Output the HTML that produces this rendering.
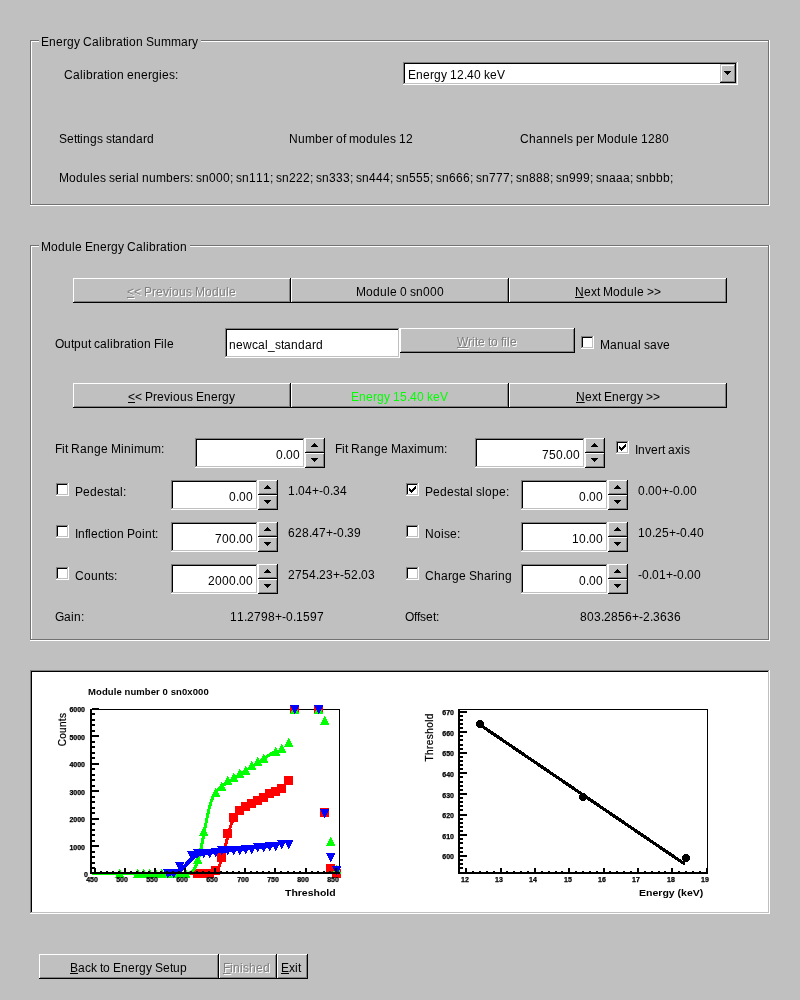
<!DOCTYPE html>
<html><head><meta charset="utf-8"><title>Energy Calibration</title><style>
html,body{margin:0;padding:0}
body{width:800px;height:1000px;background:#c0c0c0;overflow:hidden;position:relative;font-family:"Liberation Sans",sans-serif}
div{position:absolute;box-sizing:border-box}
.t{white-space:nowrap;font:12px/14px "Liberation Sans",sans-serif;height:14px;color:#000}
.t i{display:inline-block;font-style:normal;height:14px;vertical-align:baseline}
.u{text-decoration:underline}
.dis{color:#808080;text-shadow:1px 1px 0 #fff}
.grn{color:#00ff00}
.gwo{border-right:1px solid #fff;border-bottom:1px solid #fff}
.gwi{border-left:1px solid #fff;border-top:1px solid #fff}
.gd{border:1px solid #727272}
.gt{background:#c0c0c0}
.btn{background:#c0c0c0;box-shadow:inset -1px -1px 0 #000,inset 1px 1px 0 #fff,inset -2px -2px 0 #808080}
.sunk{background:#fff;box-shadow:inset -1px -1px 0 #fff,inset 1px 1px 0 #808080,inset -2px -2px 0 #c0c0c0,inset 2px 2px 0 #000}
.k{background:#000}
.tl{font:bold 7px/8px "Liberation Sans",sans-serif;height:8px;white-space:nowrap;color:#000;-webkit-text-stroke:0.25px #000}
.r{text-align:right}
.c{text-align:center}
.pt{font:bold 9.5px/10px "Liberation Sans",sans-serif;white-space:nowrap;letter-spacing:0.09px}
.al{font:bold 9.9px/12px "Liberation Sans",sans-serif;white-space:nowrap;transform-origin:0 0}
.btn2{background:#c0c0c0;box-shadow:inset -1px -1px 0 #000,inset 1px 1px 0 #c0c0c0,inset -2px -2px 0 #808080,inset 2px 2px 0 #fff}
#app{left:0;top:0;width:800px;height:1000px;will-change:transform}
.a2{width:2px}.a3{width:3px}.a4{width:4px}.a5{width:5px}.a6{width:6px}.a7{width:7px}.a8{width:8px}.a9{width:9px}.a10{width:10px}.a11{width:11px}.a12{width:12px}</style></head><body><div id="app">
<div class="gwo" style="left:30px;top:40px;width:740px;height:166px"></div>
<div class="gwi" style="left:31px;top:41px;width:737px;height:163px"></div>
<div class="gd" style="left:30px;top:40px;width:739px;height:165px"></div>
<div class="gt" style="left:39px;top:36px;width:162px;height:12px"></div>
<div class="t" style="left:41px;top:35px"><i class=a8>E</i><i class=a7>n</i><i class=a7>e</i><i class=a4>r</i><i class=a7>g</i><i class=a6>y</i><i class=a3>&nbsp;</i><i class=a9>C</i><i class=a7>a</i><i class=a3>l</i><i class=a3>i</i><i class=a7>b</i><i class=a4>r</i><i class=a7>a</i><i class=a3>t</i><i class=a3>i</i><i class=a7>o</i><i class=a7>n</i><i class=a3>&nbsp;</i><i class=a8>S</i><i class=a7>u</i><i class=a10>m</i><i class=a10>m</i><i class=a7>a</i><i class=a4>r</i><i class=a6>y</i></div>
<div class="t" style="left:64px;top:68px"><i class=a9>C</i><i class=a7>a</i><i class=a3>l</i><i class=a3>i</i><i class=a7>b</i><i class=a4>r</i><i class=a7>a</i><i class=a3>t</i><i class=a3>i</i><i class=a7>o</i><i class=a7>n</i><i class=a3>&nbsp;</i><i class=a7>e</i><i class=a7>n</i><i class=a7>e</i><i class=a4>r</i><i class=a7>g</i><i class=a3>i</i><i class=a7>e</i><i class=a6>s</i><i class=a3>:</i></div>
<div class="sunk" style="left:403px;top:62px;width:335px;height:23px"></div>
<div class="btn2" style="left:720px;top:64px;width:16px;height:19px"></div>
<div class=k style="left:724px;top:71px;width:7px;height:1px"></div>
<div class=k style="left:725px;top:72px;width:5px;height:1px"></div>
<div class=k style="left:726px;top:73px;width:3px;height:1px"></div>
<div class=k style="left:727px;top:74px;width:1px;height:1px"></div>
<div class="t" style="left:408px;top:68px"><i class=a8>E</i><i class=a7>n</i><i class=a7>e</i><i class=a4>r</i><i class=a7>g</i><i class=a6>y</i><i class=a3>&nbsp;</i><i class=a7>1</i><i class=a7>2</i><i class=a3>.</i><i class=a7>4</i><i class=a7>0</i><i class=a3>&nbsp;</i><i class=a6>k</i><i class=a7>e</i><i class=a8>V</i></div>
<div class="t" style="left:59px;top:132px"><i class=a8>S</i><i class=a7>e</i><i class=a3>t</i><i class=a3>t</i><i class=a3>i</i><i class=a7>n</i><i class=a7>g</i><i class=a6>s</i><i class=a3>&nbsp;</i><i class=a6>s</i><i class=a3>t</i><i class=a7>a</i><i class=a7>n</i><i class=a7>d</i><i class=a7>a</i><i class=a4>r</i><i class=a7>d</i></div>
<div class="t" style="left:289px;top:132px"><i class=a9>N</i><i class=a7>u</i><i class=a10>m</i><i class=a7>b</i><i class=a7>e</i><i class=a4>r</i><i class=a3>&nbsp;</i><i class=a7>o</i><i class=a3>f</i><i class=a3>&nbsp;</i><i class=a10>m</i><i class=a7>o</i><i class=a7>d</i><i class=a7>u</i><i class=a3>l</i><i class=a7>e</i><i class=a6>s</i><i class=a3>&nbsp;</i><i class=a7>1</i><i class=a7>2</i></div>
<div class="t" style="left:520px;top:132px"><i class=a9>C</i><i class=a7>h</i><i class=a7>a</i><i class=a7>n</i><i class=a7>n</i><i class=a7>e</i><i class=a3>l</i><i class=a6>s</i><i class=a3>&nbsp;</i><i class=a7>p</i><i class=a7>e</i><i class=a4>r</i><i class=a3>&nbsp;</i><i class=a10>M</i><i class=a7>o</i><i class=a7>d</i><i class=a7>u</i><i class=a3>l</i><i class=a7>e</i><i class=a3>&nbsp;</i><i class=a7>1</i><i class=a7>2</i><i class=a7>8</i><i class=a7>0</i></div>
<div class="t" style="left:59px;top:171px"><i class=a10>M</i><i class=a7>o</i><i class=a7>d</i><i class=a7>u</i><i class=a3>l</i><i class=a7>e</i><i class=a6>s</i><i class=a3>&nbsp;</i><i class=a6>s</i><i class=a7>e</i><i class=a4>r</i><i class=a3>i</i><i class=a7>a</i><i class=a3>l</i><i class=a3>&nbsp;</i><i class=a7>n</i><i class=a7>u</i><i class=a10>m</i><i class=a7>b</i><i class=a7>e</i><i class=a4>r</i><i class=a6>s</i><i class=a3>:</i><i class=a3>&nbsp;</i><i class=a6>s</i><i class=a7>n</i><i class=a7>0</i><i class=a7>0</i><i class=a7>0</i><i class=a3>;</i><i class=a3>&nbsp;</i><i class=a6>s</i><i class=a7>n</i><i class=a7>1</i><i class=a7>1</i><i class=a7>1</i><i class=a3>;</i><i class=a3>&nbsp;</i><i class=a6>s</i><i class=a7>n</i><i class=a7>2</i><i class=a7>2</i><i class=a7>2</i><i class=a3>;</i><i class=a3>&nbsp;</i><i class=a6>s</i><i class=a7>n</i><i class=a7>3</i><i class=a7>3</i><i class=a7>3</i><i class=a3>;</i><i class=a3>&nbsp;</i><i class=a6>s</i><i class=a7>n</i><i class=a7>4</i><i class=a7>4</i><i class=a7>4</i><i class=a3>;</i><i class=a3>&nbsp;</i><i class=a6>s</i><i class=a7>n</i><i class=a7>5</i><i class=a7>5</i><i class=a7>5</i><i class=a3>;</i><i class=a3>&nbsp;</i><i class=a6>s</i><i class=a7>n</i><i class=a7>6</i><i class=a7>6</i><i class=a7>6</i><i class=a3>;</i><i class=a3>&nbsp;</i><i class=a6>s</i><i class=a7>n</i><i class=a7>7</i><i class=a7>7</i><i class=a7>7</i><i class=a3>;</i><i class=a3>&nbsp;</i><i class=a6>s</i><i class=a7>n</i><i class=a7>8</i><i class=a7>8</i><i class=a7>8</i><i class=a3>;</i><i class=a3>&nbsp;</i><i class=a6>s</i><i class=a7>n</i><i class=a7>9</i><i class=a7>9</i><i class=a7>9</i><i class=a3>;</i><i class=a3>&nbsp;</i><i class=a6>s</i><i class=a7>n</i><i class=a7>a</i><i class=a7>a</i><i class=a7>a</i><i class=a3>;</i><i class=a3>&nbsp;</i><i class=a6>s</i><i class=a7>n</i><i class=a7>b</i><i class=a7>b</i><i class=a7>b</i><i class=a3>;</i></div>
<div class="gwo" style="left:30px;top:245px;width:740px;height:396px"></div>
<div class="gwi" style="left:31px;top:246px;width:737px;height:393px"></div>
<div class="gd" style="left:30px;top:245px;width:739px;height:395px"></div>
<div class="gt" style="left:39px;top:241px;width:151px;height:12px"></div>
<div class="t" style="left:41px;top:240px"><i class=a10>M</i><i class=a7>o</i><i class=a7>d</i><i class=a7>u</i><i class=a3>l</i><i class=a7>e</i><i class=a3>&nbsp;</i><i class=a8>E</i><i class=a7>n</i><i class=a7>e</i><i class=a4>r</i><i class=a7>g</i><i class=a6>y</i><i class=a3>&nbsp;</i><i class=a9>C</i><i class=a7>a</i><i class=a3>l</i><i class=a3>i</i><i class=a7>b</i><i class=a4>r</i><i class=a7>a</i><i class=a3>t</i><i class=a3>i</i><i class=a7>o</i><i class=a7>n</i></div>
<div class="btn" style="left:73px;top:278px;width:218px;height:25px"></div>
<div class="t dis" style="left:127px;top:285px"><i class="a7 u">&lt;</i><i class=a7>&lt;</i><i class=a3>&nbsp;</i><i class=a8>P</i><i class=a4>r</i><i class=a7>e</i><i class=a6>v</i><i class=a3>i</i><i class=a7>o</i><i class=a7>u</i><i class=a6>s</i><i class=a3>&nbsp;</i><i class=a10>M</i><i class=a7>o</i><i class=a7>d</i><i class=a7>u</i><i class=a3>l</i><i class=a7>e</i></div>
<div class="btn" style="left:291px;top:278px;width:218px;height:25px"></div>
<div class="t" style="left:356px;top:285px"><i class=a10>M</i><i class=a7>o</i><i class=a7>d</i><i class=a7>u</i><i class=a3>l</i><i class=a7>e</i><i class=a3>&nbsp;</i><i class=a7>0</i><i class=a3>&nbsp;</i><i class=a6>s</i><i class=a7>n</i><i class=a7>0</i><i class=a7>0</i><i class=a7>0</i></div>
<div class="btn" style="left:509px;top:278px;width:218px;height:25px"></div>
<div class="t" style="left:575px;top:285px"><i class="a9 u">N</i><i class=a7>e</i><i class=a6>x</i><i class=a3>t</i><i class=a3>&nbsp;</i><i class=a10>M</i><i class=a7>o</i><i class=a7>d</i><i class=a7>u</i><i class=a3>l</i><i class=a7>e</i><i class=a3>&nbsp;</i><i class=a7>&gt;</i><i class=a7>&gt;</i></div>
<div class="t" style="left:55px;top:337px"><i class=a9>O</i><i class=a7>u</i><i class=a3>t</i><i class=a7>p</i><i class=a7>u</i><i class=a3>t</i><i class=a3>&nbsp;</i><i class=a6>c</i><i class=a7>a</i><i class=a3>l</i><i class=a3>i</i><i class=a7>b</i><i class=a4>r</i><i class=a7>a</i><i class=a3>t</i><i class=a3>i</i><i class=a7>o</i><i class=a7>n</i><i class=a3>&nbsp;</i><i class=a7>F</i><i class=a3>i</i><i class=a3>l</i><i class=a7>e</i></div>
<div class="sunk" style="left:225px;top:328px;width:175px;height:30px"></div>
<div class="t" style="left:229px;top:338px"><i class=a7>n</i><i class=a7>e</i><i class=a9>w</i><i class=a6>c</i><i class=a7>a</i><i class=a3>l</i><i class=a7>_</i><i class=a6>s</i><i class=a3>t</i><i class=a7>a</i><i class=a7>n</i><i class=a7>d</i><i class=a7>a</i><i class=a4>r</i><i class=a7>d</i></div>
<div class="btn" style="left:400px;top:328px;width:175px;height:25px"></div>
<div class="t dis" style="left:457px;top:335px"><i class="a11 u">W</i><i class=a4>r</i><i class=a3>i</i><i class=a3>t</i><i class=a7>e</i><i class=a3>&nbsp;</i><i class=a3>t</i><i class=a7>o</i><i class=a3>&nbsp;</i><i class=a3>f</i><i class=a3>i</i><i class=a3>l</i><i class=a7>e</i></div>
<div class="sunk" style="left:581px;top:336px;width:13px;height:13px"></div>
<div class="t" style="left:600px;top:338px"><i class=a10>M</i><i class=a7>a</i><i class=a7>n</i><i class=a7>u</i><i class=a7>a</i><i class=a3>l</i><i class=a3>&nbsp;</i><i class=a6>s</i><i class=a7>a</i><i class=a6>v</i><i class=a7>e</i></div>
<div class="btn" style="left:73px;top:383px;width:218px;height:25px"></div>
<div class="t" style="left:128px;top:390px"><i class="a7 u">&lt;</i><i class=a7>&lt;</i><i class=a3>&nbsp;</i><i class=a8>P</i><i class=a4>r</i><i class=a7>e</i><i class=a6>v</i><i class=a3>i</i><i class=a7>o</i><i class=a7>u</i><i class=a6>s</i><i class=a3>&nbsp;</i><i class=a8>E</i><i class=a7>n</i><i class=a7>e</i><i class=a4>r</i><i class=a7>g</i><i class=a6>y</i></div>
<div class="btn" style="left:291px;top:383px;width:218px;height:25px"></div>
<div class="t grn" style="left:351px;top:390px"><i class=a8>E</i><i class=a7>n</i><i class=a7>e</i><i class=a4>r</i><i class=a7>g</i><i class=a6>y</i><i class=a3>&nbsp;</i><i class=a7>1</i><i class=a7>5</i><i class=a3>.</i><i class=a7>4</i><i class=a7>0</i><i class=a3>&nbsp;</i><i class=a6>k</i><i class=a7>e</i><i class=a8>V</i></div>
<div class="btn" style="left:509px;top:383px;width:218px;height:25px"></div>
<div class="t" style="left:576px;top:390px"><i class="a9 u">N</i><i class=a7>e</i><i class=a6>x</i><i class=a3>t</i><i class=a3>&nbsp;</i><i class=a8>E</i><i class=a7>n</i><i class=a7>e</i><i class=a4>r</i><i class=a7>g</i><i class=a6>y</i><i class=a3>&nbsp;</i><i class=a7>&gt;</i><i class=a7>&gt;</i></div>
<div class="t" style="left:55px;top:442px"><i class=a7>F</i><i class=a3>i</i><i class=a3>t</i><i class=a3>&nbsp;</i><i class=a9>R</i><i class=a7>a</i><i class=a7>n</i><i class=a7>g</i><i class=a7>e</i><i class=a3>&nbsp;</i><i class=a10>M</i><i class=a3>i</i><i class=a7>n</i><i class=a3>i</i><i class=a10>m</i><i class=a7>u</i><i class=a10>m</i><i class=a3>:</i></div>
<div class="sunk" style="left:195px;top:438px;width:110px;height:30px"></div>
<div class="t" style="left:276px;top:448px"><i class=a7>0</i><i class=a3>.</i><i class=a7>0</i><i class=a7>0</i></div>
<div class="btn" style="left:305px;top:438px;width:20px;height:15px"></div>
<div class="btn" style="left:305px;top:453px;width:20px;height:15px"></div>
<div class=k style="left:314px;top:443px;width:1px;height:1px"></div>
<div class=k style="left:313px;top:444px;width:3px;height:1px"></div>
<div class=k style="left:312px;top:445px;width:5px;height:1px"></div>
<div class=k style="left:311px;top:446px;width:7px;height:1px"></div>
<div class=k style="left:311px;top:458px;width:7px;height:1px"></div>
<div class=k style="left:312px;top:459px;width:5px;height:1px"></div>
<div class=k style="left:313px;top:460px;width:3px;height:1px"></div>
<div class=k style="left:314px;top:461px;width:1px;height:1px"></div>
<div class="t" style="left:335px;top:442px"><i class=a7>F</i><i class=a3>i</i><i class=a3>t</i><i class=a3>&nbsp;</i><i class=a9>R</i><i class=a7>a</i><i class=a7>n</i><i class=a7>g</i><i class=a7>e</i><i class=a3>&nbsp;</i><i class=a10>M</i><i class=a7>a</i><i class=a6>x</i><i class=a3>i</i><i class=a10>m</i><i class=a7>u</i><i class=a10>m</i><i class=a3>:</i></div>
<div class="sunk" style="left:475px;top:438px;width:110px;height:30px"></div>
<div class="t" style="left:542px;top:448px"><i class=a7>7</i><i class=a7>5</i><i class=a7>0</i><i class=a3>.</i><i class=a7>0</i><i class=a7>0</i></div>
<div class="btn" style="left:585px;top:438px;width:20px;height:15px"></div>
<div class="btn" style="left:585px;top:453px;width:20px;height:15px"></div>
<div class=k style="left:594px;top:443px;width:1px;height:1px"></div>
<div class=k style="left:593px;top:444px;width:3px;height:1px"></div>
<div class=k style="left:592px;top:445px;width:5px;height:1px"></div>
<div class=k style="left:591px;top:446px;width:7px;height:1px"></div>
<div class=k style="left:591px;top:458px;width:7px;height:1px"></div>
<div class=k style="left:592px;top:459px;width:5px;height:1px"></div>
<div class=k style="left:593px;top:460px;width:3px;height:1px"></div>
<div class=k style="left:594px;top:461px;width:1px;height:1px"></div>
<div class="sunk" style="left:616px;top:441px;width:13px;height:13px"></div>
<div class=k style="left:619px;top:446px;width:1px;height:3px"></div>
<div class=k style="left:620px;top:447px;width:1px;height:3px"></div>
<div class=k style="left:621px;top:448px;width:1px;height:3px"></div>
<div class=k style="left:622px;top:447px;width:1px;height:3px"></div>
<div class=k style="left:623px;top:446px;width:1px;height:3px"></div>
<div class=k style="left:624px;top:445px;width:1px;height:3px"></div>
<div class=k style="left:625px;top:444px;width:1px;height:3px"></div>
<div class="t" style="left:635px;top:443px"><i class=a3>I</i><i class=a7>n</i><i class=a6>v</i><i class=a7>e</i><i class=a4>r</i><i class=a3>t</i><i class=a3>&nbsp;</i><i class=a7>a</i><i class=a6>x</i><i class=a3>i</i><i class=a6>s</i></div>
<div class="sunk" style="left:56px;top:483px;width:13px;height:13px"></div>
<div class="t" style="left:75px;top:485px"><i class=a8>P</i><i class=a7>e</i><i class=a7>d</i><i class=a7>e</i><i class=a6>s</i><i class=a3>t</i><i class=a7>a</i><i class=a3>l</i><i class=a3>:</i></div>
<div class="sunk" style="left:171px;top:480px;width:87px;height:30px"></div>
<div class="t" style="left:229px;top:490px"><i class=a7>0</i><i class=a3>.</i><i class=a7>0</i><i class=a7>0</i></div>
<div class="btn" style="left:258px;top:480px;width:20px;height:15px"></div>
<div class="btn" style="left:258px;top:495px;width:20px;height:15px"></div>
<div class=k style="left:267px;top:485px;width:1px;height:1px"></div>
<div class=k style="left:266px;top:486px;width:3px;height:1px"></div>
<div class=k style="left:265px;top:487px;width:5px;height:1px"></div>
<div class=k style="left:264px;top:488px;width:7px;height:1px"></div>
<div class=k style="left:264px;top:500px;width:7px;height:1px"></div>
<div class=k style="left:265px;top:501px;width:5px;height:1px"></div>
<div class=k style="left:266px;top:502px;width:3px;height:1px"></div>
<div class=k style="left:267px;top:503px;width:1px;height:1px"></div>
<div class="t" style="left:288px;top:484px"><i class=a7>1</i><i class=a3>.</i><i class=a7>0</i><i class=a7>4</i><i class=a7>+</i><i class=a4>-</i><i class=a7>0</i><i class=a3>.</i><i class=a7>3</i><i class=a7>4</i></div>
<div class="sunk" style="left:406px;top:483px;width:13px;height:13px"></div>
<div class=k style="left:409px;top:488px;width:1px;height:3px"></div>
<div class=k style="left:410px;top:489px;width:1px;height:3px"></div>
<div class=k style="left:411px;top:490px;width:1px;height:3px"></div>
<div class=k style="left:412px;top:489px;width:1px;height:3px"></div>
<div class=k style="left:413px;top:488px;width:1px;height:3px"></div>
<div class=k style="left:414px;top:487px;width:1px;height:3px"></div>
<div class=k style="left:415px;top:486px;width:1px;height:3px"></div>
<div class="t" style="left:425px;top:485px"><i class=a8>P</i><i class=a7>e</i><i class=a7>d</i><i class=a7>e</i><i class=a6>s</i><i class=a3>t</i><i class=a7>a</i><i class=a3>l</i><i class=a3>&nbsp;</i><i class=a6>s</i><i class=a3>l</i><i class=a7>o</i><i class=a7>p</i><i class=a7>e</i><i class=a3>:</i></div>
<div class="sunk" style="left:521px;top:480px;width:87px;height:30px"></div>
<div class="t" style="left:579px;top:490px"><i class=a7>0</i><i class=a3>.</i><i class=a7>0</i><i class=a7>0</i></div>
<div class="btn" style="left:608px;top:480px;width:20px;height:15px"></div>
<div class="btn" style="left:608px;top:495px;width:20px;height:15px"></div>
<div class=k style="left:617px;top:485px;width:1px;height:1px"></div>
<div class=k style="left:616px;top:486px;width:3px;height:1px"></div>
<div class=k style="left:615px;top:487px;width:5px;height:1px"></div>
<div class=k style="left:614px;top:488px;width:7px;height:1px"></div>
<div class=k style="left:614px;top:500px;width:7px;height:1px"></div>
<div class=k style="left:615px;top:501px;width:5px;height:1px"></div>
<div class=k style="left:616px;top:502px;width:3px;height:1px"></div>
<div class=k style="left:617px;top:503px;width:1px;height:1px"></div>
<div class="t" style="left:638px;top:484px"><i class=a7>0</i><i class=a3>.</i><i class=a7>0</i><i class=a7>0</i><i class=a7>+</i><i class=a4>-</i><i class=a7>0</i><i class=a3>.</i><i class=a7>0</i><i class=a7>0</i></div>
<div class="sunk" style="left:56px;top:525px;width:13px;height:13px"></div>
<div class="t" style="left:75px;top:527px"><i class=a3>I</i><i class=a7>n</i><i class=a3>f</i><i class=a3>l</i><i class=a7>e</i><i class=a6>c</i><i class=a3>t</i><i class=a3>i</i><i class=a7>o</i><i class=a7>n</i><i class=a3>&nbsp;</i><i class=a8>P</i><i class=a7>o</i><i class=a3>i</i><i class=a7>n</i><i class=a3>t</i><i class=a3>:</i></div>
<div class="sunk" style="left:171px;top:522px;width:87px;height:30px"></div>
<div class="t" style="left:215px;top:532px"><i class=a7>7</i><i class=a7>0</i><i class=a7>0</i><i class=a3>.</i><i class=a7>0</i><i class=a7>0</i></div>
<div class="btn" style="left:258px;top:522px;width:20px;height:15px"></div>
<div class="btn" style="left:258px;top:537px;width:20px;height:15px"></div>
<div class=k style="left:267px;top:527px;width:1px;height:1px"></div>
<div class=k style="left:266px;top:528px;width:3px;height:1px"></div>
<div class=k style="left:265px;top:529px;width:5px;height:1px"></div>
<div class=k style="left:264px;top:530px;width:7px;height:1px"></div>
<div class=k style="left:264px;top:542px;width:7px;height:1px"></div>
<div class=k style="left:265px;top:543px;width:5px;height:1px"></div>
<div class=k style="left:266px;top:544px;width:3px;height:1px"></div>
<div class=k style="left:267px;top:545px;width:1px;height:1px"></div>
<div class="t" style="left:288px;top:526px"><i class=a7>6</i><i class=a7>2</i><i class=a7>8</i><i class=a3>.</i><i class=a7>4</i><i class=a7>7</i><i class=a7>+</i><i class=a4>-</i><i class=a7>0</i><i class=a3>.</i><i class=a7>3</i><i class=a7>9</i></div>
<div class="sunk" style="left:406px;top:525px;width:13px;height:13px"></div>
<div class="t" style="left:425px;top:527px"><i class=a9>N</i><i class=a7>o</i><i class=a3>i</i><i class=a6>s</i><i class=a7>e</i><i class=a3>:</i></div>
<div class="sunk" style="left:521px;top:522px;width:87px;height:30px"></div>
<div class="t" style="left:572px;top:532px"><i class=a7>1</i><i class=a7>0</i><i class=a3>.</i><i class=a7>0</i><i class=a7>0</i></div>
<div class="btn" style="left:608px;top:522px;width:20px;height:15px"></div>
<div class="btn" style="left:608px;top:537px;width:20px;height:15px"></div>
<div class=k style="left:617px;top:527px;width:1px;height:1px"></div>
<div class=k style="left:616px;top:528px;width:3px;height:1px"></div>
<div class=k style="left:615px;top:529px;width:5px;height:1px"></div>
<div class=k style="left:614px;top:530px;width:7px;height:1px"></div>
<div class=k style="left:614px;top:542px;width:7px;height:1px"></div>
<div class=k style="left:615px;top:543px;width:5px;height:1px"></div>
<div class=k style="left:616px;top:544px;width:3px;height:1px"></div>
<div class=k style="left:617px;top:545px;width:1px;height:1px"></div>
<div class="t" style="left:638px;top:526px"><i class=a7>1</i><i class=a7>0</i><i class=a3>.</i><i class=a7>2</i><i class=a7>5</i><i class=a7>+</i><i class=a4>-</i><i class=a7>0</i><i class=a3>.</i><i class=a7>4</i><i class=a7>0</i></div>
<div class="sunk" style="left:56px;top:567px;width:13px;height:13px"></div>
<div class="t" style="left:75px;top:569px"><i class=a9>C</i><i class=a7>o</i><i class=a7>u</i><i class=a7>n</i><i class=a3>t</i><i class=a6>s</i><i class=a3>:</i></div>
<div class="sunk" style="left:171px;top:564px;width:87px;height:30px"></div>
<div class="t" style="left:208px;top:574px"><i class=a7>2</i><i class=a7>0</i><i class=a7>0</i><i class=a7>0</i><i class=a3>.</i><i class=a7>0</i><i class=a7>0</i></div>
<div class="btn" style="left:258px;top:564px;width:20px;height:15px"></div>
<div class="btn" style="left:258px;top:579px;width:20px;height:15px"></div>
<div class=k style="left:267px;top:569px;width:1px;height:1px"></div>
<div class=k style="left:266px;top:570px;width:3px;height:1px"></div>
<div class=k style="left:265px;top:571px;width:5px;height:1px"></div>
<div class=k style="left:264px;top:572px;width:7px;height:1px"></div>
<div class=k style="left:264px;top:584px;width:7px;height:1px"></div>
<div class=k style="left:265px;top:585px;width:5px;height:1px"></div>
<div class=k style="left:266px;top:586px;width:3px;height:1px"></div>
<div class=k style="left:267px;top:587px;width:1px;height:1px"></div>
<div class="t" style="left:288px;top:568px"><i class=a7>2</i><i class=a7>7</i><i class=a7>5</i><i class=a7>4</i><i class=a3>.</i><i class=a7>2</i><i class=a7>3</i><i class=a7>+</i><i class=a4>-</i><i class=a7>5</i><i class=a7>2</i><i class=a3>.</i><i class=a7>0</i><i class=a7>3</i></div>
<div class="sunk" style="left:406px;top:567px;width:13px;height:13px"></div>
<div class="t" style="left:425px;top:569px"><i class=a9>C</i><i class=a7>h</i><i class=a7>a</i><i class=a4>r</i><i class=a7>g</i><i class=a7>e</i><i class=a3>&nbsp;</i><i class=a8>S</i><i class=a7>h</i><i class=a7>a</i><i class=a4>r</i><i class=a3>i</i><i class=a7>n</i><i class=a7>g</i></div>
<div class="sunk" style="left:521px;top:564px;width:87px;height:30px"></div>
<div class="t" style="left:579px;top:574px"><i class=a7>0</i><i class=a3>.</i><i class=a7>0</i><i class=a7>0</i></div>
<div class="btn" style="left:608px;top:564px;width:20px;height:15px"></div>
<div class="btn" style="left:608px;top:579px;width:20px;height:15px"></div>
<div class=k style="left:617px;top:569px;width:1px;height:1px"></div>
<div class=k style="left:616px;top:570px;width:3px;height:1px"></div>
<div class=k style="left:615px;top:571px;width:5px;height:1px"></div>
<div class=k style="left:614px;top:572px;width:7px;height:1px"></div>
<div class=k style="left:614px;top:584px;width:7px;height:1px"></div>
<div class=k style="left:615px;top:585px;width:5px;height:1px"></div>
<div class=k style="left:616px;top:586px;width:3px;height:1px"></div>
<div class=k style="left:617px;top:587px;width:1px;height:1px"></div>
<div class="t" style="left:638px;top:568px"><i class=a4>-</i><i class=a7>0</i><i class=a3>.</i><i class=a7>0</i><i class=a7>1</i><i class=a7>+</i><i class=a4>-</i><i class=a7>0</i><i class=a3>.</i><i class=a7>0</i><i class=a7>0</i></div>
<div class="t" style="left:55px;top:610px"><i class=a9>G</i><i class=a7>a</i><i class=a3>i</i><i class=a7>n</i><i class=a3>:</i></div>
<div class="t" style="left:230px;top:610px"><i class=a7>1</i><i class=a7>1</i><i class=a3>.</i><i class=a7>2</i><i class=a7>7</i><i class=a7>9</i><i class=a7>8</i><i class=a7>+</i><i class=a4>-</i><i class=a7>0</i><i class=a3>.</i><i class=a7>1</i><i class=a7>5</i><i class=a7>9</i><i class=a7>7</i></div>
<div class="t" style="left:405px;top:610px"><i class=a9>O</i><i class=a3>f</i><i class=a3>f</i><i class=a6>s</i><i class=a7>e</i><i class=a3>t</i><i class=a3>:</i></div>
<div class="t" style="left:580px;top:610px"><i class=a7>8</i><i class=a7>0</i><i class=a7>3</i><i class=a3>.</i><i class=a7>2</i><i class=a7>8</i><i class=a7>5</i><i class=a7>6</i><i class=a7>+</i><i class=a4>-</i><i class=a7>2</i><i class=a3>.</i><i class=a7>3</i><i class=a7>6</i><i class=a7>3</i><i class=a7>6</i></div>
<div class="sunk pf" style="left:30px;top:670px;width:740px;height:244px"></div>
<svg width="800" height="1000" viewBox="0 0 800 1000" shape-rendering="crispEdges" style="position:absolute;left:0;top:0">
<rect x="90" y="709" width="250" height="1" fill="#000"/>
<rect x="339" y="709" width="1" height="165" fill="#000"/>
<polyline points="92.1,873.8 92.7,873.8 93.3,873.8 93.9,873.8 94.5,873.8 95.1,873.8 95.7,873.8 96.3,873.8 96.9,873.8 97.5,873.8 98.1,873.8 98.7,873.8 99.3,873.8 99.9,873.8 100.6,873.8 101.2,873.8 101.8,873.8 102.4,873.8 103.0,873.8 103.6,873.8 104.2,873.8 104.8,873.8 105.4,873.8 106.0,873.8 106.6,873.8 107.2,873.8 107.8,873.8 108.4,873.8 109.0,873.8 109.6,873.8 110.2,873.8 110.8,873.8 111.4,873.8 112.0,873.8 112.6,873.8 113.2,873.8 113.8,873.8 114.4,873.8 115.0,873.8 115.6,873.8 116.2,873.8 116.8,873.8 117.4,873.8 118.0,873.8 118.6,873.8 119.2,873.8 119.8,873.8 120.5,873.8 121.1,873.8 121.7,873.8 122.3,873.8 122.9,873.8 123.5,873.8 124.1,873.8 124.7,873.8 125.3,873.8 125.9,873.8 126.5,873.8 127.1,873.8 127.7,873.8 128.3,873.8 128.9,873.8 129.5,873.8 130.1,873.8 130.7,873.8 131.3,873.8 131.9,873.8 132.5,873.8 133.1,873.8 133.7,873.8 134.3,873.8 134.9,873.8 135.5,873.8 136.1,873.8 136.7,873.8 137.3,873.8 137.9,873.8 138.5,873.8 139.1,873.8 139.7,873.8 140.4,873.8 141.0,873.8 141.6,873.8 142.2,873.8 142.8,873.8 143.4,873.8 144.0,873.8 144.6,873.8 145.2,873.8 145.8,873.8 146.4,873.8 147.0,873.8 147.6,873.8 148.2,873.8 148.8,873.8 149.4,873.8 150.0,873.8 150.6,873.8 151.2,873.8 151.8,873.8 152.4,873.8 153.0,873.8 153.6,873.8 154.2,873.8 154.8,873.8 155.4,873.8 156.0,873.8 156.6,873.8 157.2,873.8 157.8,873.8 158.4,873.8 159.0,873.8 159.7,873.8 160.3,873.8 160.9,873.8 161.5,873.8 162.1,873.8 162.7,873.8 163.3,873.8 163.9,873.8 164.5,873.8 165.1,873.8 165.7,873.8 166.3,873.8 166.9,873.8 167.5,873.8 168.1,873.8 168.7,873.8 169.3,873.8 169.9,873.8 170.5,873.8 171.1,873.8 171.7,873.8 172.3,873.8 172.9,873.8 173.5,873.8 174.1,873.8 174.7,873.8 175.3,873.8 175.9,873.8 176.5,873.8 177.1,873.8 177.7,873.8 178.3,873.8 178.9,873.8 179.6,873.8 180.2,873.8 180.8,873.8 181.4,873.8 182.0,873.8 182.6,873.8 183.2,873.8 183.8,873.8 184.4,873.8 185.0,873.8 185.6,873.8 186.2,873.8 186.8,873.8 187.4,873.8 188.0,873.8 188.6,873.8 189.2,873.8 189.8,873.8 190.4,873.8 191.0,873.8 191.6,873.8 192.2,873.8 192.8,873.8 193.4,873.8 194.0,873.8 194.6,873.8 195.2,873.8 195.8,873.8 196.4,873.8 197.0,873.8 197.6,873.8 198.2,873.8 198.8,873.8 199.5,873.8 200.1,873.8 200.7,873.8 201.3,873.8 201.9,873.8 202.5,873.8 203.1,873.8 203.7,873.8 204.3,873.8 204.9,873.8 205.5,873.8 206.1,873.8 206.7,873.8 207.3,873.7 207.9,873.7 208.5,873.7 209.1,873.6 209.7,873.6 210.3,873.5 210.9,873.4 211.5,873.3 212.1,873.1 212.7,872.9 213.3,872.7 213.9,872.4 214.5,872.0 215.1,871.6 215.7,871.1 216.3,870.4 216.9,869.7 217.5,868.9 218.1,867.9 218.7,866.8 219.4,865.5 220.0,864.2 220.6,862.6 221.2,860.9 221.8,859.1 222.4,857.2 223.0,855.1 223.6,852.9 224.2,850.7 224.8,848.3 225.4,845.9 226.0,843.5 226.6,841.1 227.2,838.7 227.8,836.3 228.4,834.0 229.0,831.8 229.6,829.7 230.2,827.6 230.8,825.7 231.4,823.9 232.0,822.3 232.6,820.8 233.2,819.4 233.8,818.1 234.4,816.9 235.0,815.9 235.6,815.0 236.2,814.1 236.8,813.4 237.4,812.7 238.0,812.1 238.6,811.5 239.3,811.0 239.9,810.6 240.5,810.1 241.1,809.7 241.7,809.4 242.3,809.0 242.9,808.7 243.5,808.3 244.1,808.0 244.7,807.7 245.3,807.4 245.9,807.1 246.5,806.8 247.1,806.5 247.7,806.2 248.3,805.9 248.9,805.6 249.5,805.3 250.1,805.0 250.7,804.7 251.3,804.4 251.9,804.1 252.5,803.8 253.1,803.5 253.7,803.2 254.3,802.9 254.9,802.6 255.5,802.3 256.1,802.0 256.7,801.7 257.3,801.4 257.9,801.1 258.6,800.8 259.2,800.5 259.8,800.2 260.4,799.9 261.0,799.6 261.6,799.3 262.2,799.0 262.8,798.7 263.4,798.4 264.0,798.1 264.6,797.8 265.2,797.5 265.8,797.2 266.4,796.9 267.0,796.7 267.6,796.4 268.2,796.1 268.8,795.8 269.4,795.5 270.0,795.2 270.6,794.9 271.2,794.6 271.8,794.3 272.4,794.0 273.0,793.7 273.6,793.4 274.2,793.1 274.8,792.8 275.4,792.5 276.0,792.2 276.6,791.9" fill="none" stroke="#ff0000" stroke-width="3" stroke-linejoin="round"/>
<rect x="193" y="869" width="9" height="9" fill="#ff0000"/>
<rect x="199" y="869" width="9" height="9" fill="#ff0000"/>
<rect x="205" y="869" width="9" height="9" fill="#ff0000"/>
<rect x="211" y="866" width="9" height="9" fill="#ff0000"/>
<rect x="217" y="853" width="9" height="9" fill="#ff0000"/>
<rect x="223" y="829" width="9" height="9" fill="#ff0000"/>
<rect x="229" y="813" width="9" height="9" fill="#ff0000"/>
<rect x="235" y="806" width="9" height="9" fill="#ff0000"/>
<rect x="241" y="802" width="9" height="9" fill="#ff0000"/>
<rect x="247" y="799" width="9" height="9" fill="#ff0000"/>
<rect x="253" y="796" width="9" height="9" fill="#ff0000"/>
<rect x="259" y="793" width="9" height="9" fill="#ff0000"/>
<rect x="265" y="789" width="9" height="9" fill="#ff0000"/>
<rect x="271" y="787" width="9" height="9" fill="#ff0000"/>
<rect x="277" y="784" width="9" height="9" fill="#ff0000"/>
<rect x="284" y="776" width="9" height="9" fill="#ff0000"/>
<rect x="290" y="705" width="9" height="9" fill="#ff0000"/>
<rect x="314" y="705" width="9" height="9" fill="#ff0000"/>
<rect x="320" y="808" width="9" height="9" fill="#ff0000"/>
<rect x="326" y="864" width="9" height="9" fill="#ff0000"/>
<rect x="332" y="869" width="9" height="9" fill="#ff0000"/>
<polyline points="92.1,873.8 92.7,873.8 93.3,873.8 93.9,873.8 94.5,873.8 95.1,873.8 95.7,873.8 96.3,873.8 96.9,873.8 97.5,873.8 98.1,873.8 98.7,873.8 99.3,873.8 99.9,873.8 100.6,873.8 101.2,873.8 101.8,873.8 102.4,873.8 103.0,873.8 103.6,873.8 104.2,873.8 104.8,873.8 105.4,873.8 106.0,873.8 106.6,873.8 107.2,873.8 107.8,873.8 108.4,873.8 109.0,873.8 109.6,873.8 110.2,873.8 110.8,873.8 111.4,873.8 112.0,873.8 112.6,873.8 113.2,873.8 113.8,873.8 114.4,873.8 115.0,873.8 115.6,873.8 116.2,873.8 116.8,873.8 117.4,873.8 118.0,873.8 118.6,873.8 119.2,873.8 119.8,873.8 120.5,873.8 121.1,873.8 121.7,873.8 122.3,873.8 122.9,873.8 123.5,873.8 124.1,873.8 124.7,873.8 125.3,873.8 125.9,873.8 126.5,873.8 127.1,873.8 127.7,873.8 128.3,873.8 128.9,873.8 129.5,873.8 130.1,873.8 130.7,873.8 131.3,873.8 131.9,873.8 132.5,873.8 133.1,873.8 133.7,873.8 134.3,873.8 134.9,873.8 135.5,873.8 136.1,873.8 136.7,873.8 137.3,873.8 137.9,873.8 138.5,873.8 139.1,873.8 139.7,873.8 140.4,873.8 141.0,873.8 141.6,873.8 142.2,873.8 142.8,873.8 143.4,873.8 144.0,873.8 144.6,873.8 145.2,873.8 145.8,873.8 146.4,873.8 147.0,873.8 147.6,873.8 148.2,873.8 148.8,873.8 149.4,873.8 150.0,873.8 150.6,873.8 151.2,873.8 151.8,873.8 152.4,873.8 153.0,873.8 153.6,873.8 154.2,873.8 154.8,873.8 155.4,873.8 156.0,873.8 156.6,873.8 157.2,873.8 157.8,873.8 158.4,873.8 159.0,873.8 159.7,873.8 160.3,873.8 160.9,873.8 161.5,873.8 162.1,873.8 162.7,873.8 163.3,873.8 163.9,873.8 164.5,873.8 165.1,873.8 165.7,873.8 166.3,873.8 166.9,873.8 167.5,873.8 168.1,873.8 168.7,873.8 169.3,873.8 169.9,873.8 170.5,873.8 171.1,873.8 171.7,873.8 172.3,873.8 172.9,873.8 173.5,873.8 174.1,873.8 174.7,873.8 175.3,873.8 175.9,873.8 176.5,873.8 177.1,873.8 177.7,873.8 178.3,873.8 178.9,873.8 179.6,873.8 180.2,873.8 180.8,873.8 181.4,873.8 182.0,873.8 182.6,873.8 183.2,873.8 183.8,873.8 184.4,873.7 185.0,873.7 185.6,873.7 186.2,873.6 186.8,873.6 187.4,873.5 188.0,873.4 188.6,873.3 189.2,873.1 189.8,872.9 190.4,872.6 191.0,872.3 191.6,871.9 192.2,871.5 192.8,870.9 193.4,870.2 194.0,869.4 194.6,868.5 195.2,867.4 195.8,866.2 196.4,864.8 197.0,863.2 197.6,861.4 198.2,859.5 198.8,857.4 199.5,855.0 200.1,852.6 200.7,849.9 201.3,847.1 201.9,844.2 202.5,841.2 203.1,838.1 203.7,835.0 204.3,831.8 204.9,828.7 205.5,825.6 206.1,822.5 206.7,819.5 207.3,816.7 207.9,813.9 208.5,811.3 209.1,808.9 209.7,806.6 210.3,804.5 210.9,802.5 211.5,800.7 212.1,799.1 212.7,797.6 213.3,796.2 213.9,795.0 214.5,793.9 215.1,793.0 215.7,792.1 216.3,791.3 216.9,790.5 217.5,789.9 218.1,789.3 218.7,788.7 219.4,788.2 220.0,787.6 220.6,787.2 221.2,786.7 221.8,786.3 222.4,785.8 223.0,785.4 223.6,785.0 224.2,784.6 224.8,784.2 225.4,783.8 226.0,783.4 226.6,783.0 227.2,782.6 227.8,782.2 228.4,781.8 229.0,781.4 229.6,781.0 230.2,780.6 230.8,780.2 231.4,779.8 232.0,779.4 232.6,779.0 233.2,778.6 233.8,778.3 234.4,777.9 235.0,777.5 235.6,777.1 236.2,776.7 236.8,776.3 237.4,775.9 238.0,775.5 238.6,775.1 239.3,774.7 239.9,774.3 240.5,773.9 241.1,773.5 241.7,773.1 242.3,772.7 242.9,772.3 243.5,772.0 244.1,771.6 244.7,771.2 245.3,770.8 245.9,770.4 246.5,770.0 247.1,769.6 247.7,769.2 248.3,768.8 248.9,768.4 249.5,768.0 250.1,767.6 250.7,767.2 251.3,766.8 251.9,766.4 252.5,766.0 253.1,765.7 253.7,765.3 254.3,764.9 254.9,764.5 255.5,764.1 256.1,763.7 256.7,763.3 257.3,762.9 257.9,762.5 258.6,762.1 259.2,761.7 259.8,761.3 260.4,760.9 261.0,760.5 261.6,760.1 262.2,759.7 262.8,759.4 263.4,759.0 264.0,758.6 264.6,758.2 265.2,757.8 265.8,757.4 266.4,757.0 267.0,756.6 267.6,756.2 268.2,755.8 268.8,755.4 269.4,755.0 270.0,754.6 270.6,754.2 271.2,753.8 271.8,753.4 272.4,753.1 273.0,752.7 273.6,752.3 274.2,751.9 274.8,751.5 275.4,751.1 276.0,750.7 276.6,750.3" fill="none" stroke="#00ff00" stroke-width="3" stroke-linejoin="round"/>
<path d="M119 869h1v1h-1zM119 870h2v1h-2zM118 871h3v1h-3zM118 872h4v1h-4zM117 873h5v1h-5zM117 874h6v1h-6zM116 875h7v1h-7zM116 876h8v1h-8zM115 877h9v1h-9z" fill="#00ff00"/>
<path d="M137 869h1v1h-1zM137 870h2v1h-2zM136 871h3v1h-3zM136 872h4v1h-4zM135 873h5v1h-5zM135 874h6v1h-6zM134 875h7v1h-7zM134 876h8v1h-8zM133 877h9v1h-9z" fill="#00ff00"/>
<path d="M143 869h1v1h-1zM143 870h2v1h-2zM142 871h3v1h-3zM142 872h4v1h-4zM141 873h5v1h-5zM141 874h6v1h-6zM140 875h7v1h-7zM140 876h8v1h-8zM139 877h9v1h-9z" fill="#00ff00"/>
<path d="M149 869h1v1h-1zM149 870h2v1h-2zM148 871h3v1h-3zM148 872h4v1h-4zM147 873h5v1h-5zM147 874h6v1h-6zM146 875h7v1h-7zM146 876h8v1h-8zM145 877h9v1h-9z" fill="#00ff00"/>
<path d="M155 869h1v1h-1zM155 870h2v1h-2zM154 871h3v1h-3zM154 872h4v1h-4zM153 873h5v1h-5zM153 874h6v1h-6zM152 875h7v1h-7zM152 876h8v1h-8zM151 877h9v1h-9z" fill="#00ff00"/>
<path d="M161 869h1v1h-1zM161 870h2v1h-2zM160 871h3v1h-3zM160 872h4v1h-4zM159 873h5v1h-5zM159 874h6v1h-6zM158 875h7v1h-7zM158 876h8v1h-8zM157 877h9v1h-9z" fill="#00ff00"/>
<path d="M167 869h1v1h-1zM167 870h2v1h-2zM166 871h3v1h-3zM166 872h4v1h-4zM165 873h5v1h-5zM165 874h6v1h-6zM164 875h7v1h-7zM164 876h8v1h-8zM163 877h9v1h-9z" fill="#00ff00"/>
<path d="M173 869h1v1h-1zM173 870h2v1h-2zM172 871h3v1h-3zM172 872h4v1h-4zM171 873h5v1h-5zM171 874h6v1h-6zM170 875h7v1h-7zM170 876h8v1h-8zM169 877h9v1h-9z" fill="#00ff00"/>
<path d="M179 869h1v1h-1zM179 870h2v1h-2zM178 871h3v1h-3zM178 872h4v1h-4zM177 873h5v1h-5zM177 874h6v1h-6zM176 875h7v1h-7zM176 876h8v1h-8zM175 877h9v1h-9z" fill="#00ff00"/>
<path d="M185 869h1v1h-1zM185 870h2v1h-2zM184 871h3v1h-3zM184 872h4v1h-4zM183 873h5v1h-5zM183 874h6v1h-6zM182 875h7v1h-7zM182 876h8v1h-8zM181 877h9v1h-9z" fill="#00ff00"/>
<path d="M197 855h1v1h-1zM197 856h2v1h-2zM196 857h3v1h-3zM196 858h4v1h-4zM195 859h5v1h-5zM195 860h6v1h-6zM194 861h7v1h-7zM194 862h8v1h-8zM193 863h9v1h-9z" fill="#00ff00"/>
<path d="M203 827h1v1h-1zM203 828h2v1h-2zM202 829h3v1h-3zM202 830h4v1h-4zM201 831h5v1h-5zM201 832h6v1h-6zM200 833h7v1h-7zM200 834h8v1h-8zM199 835h9v1h-9z" fill="#00ff00"/>
<path d="M215 788h1v1h-1zM215 789h2v1h-2zM214 790h3v1h-3zM214 791h4v1h-4zM213 792h5v1h-5zM213 793h6v1h-6zM212 794h7v1h-7zM212 795h8v1h-8zM211 796h9v1h-9z" fill="#00ff00"/>
<path d="M221 782h1v1h-1zM221 783h2v1h-2zM220 784h3v1h-3zM220 785h4v1h-4zM219 786h5v1h-5zM219 787h6v1h-6zM218 788h7v1h-7zM218 789h8v1h-8zM217 790h9v1h-9z" fill="#00ff00"/>
<path d="M227 776h1v1h-1zM227 777h2v1h-2zM226 778h3v1h-3zM226 779h4v1h-4zM225 780h5v1h-5zM225 781h6v1h-6zM224 782h7v1h-7zM224 783h8v1h-8zM223 784h9v1h-9z" fill="#00ff00"/>
<path d="M233 773h1v1h-1zM233 774h2v1h-2zM232 775h3v1h-3zM232 776h4v1h-4zM231 777h5v1h-5zM231 778h6v1h-6zM230 779h7v1h-7zM230 780h8v1h-8zM229 781h9v1h-9z" fill="#00ff00"/>
<path d="M239 769h1v1h-1zM239 770h2v1h-2zM238 771h3v1h-3zM238 772h4v1h-4zM237 773h5v1h-5zM237 774h6v1h-6zM236 775h7v1h-7zM236 776h8v1h-8zM235 777h9v1h-9z" fill="#00ff00"/>
<path d="M245 766h1v1h-1zM245 767h2v1h-2zM244 768h3v1h-3zM244 769h4v1h-4zM243 770h5v1h-5zM243 771h6v1h-6zM242 772h7v1h-7zM242 773h8v1h-8zM241 774h9v1h-9z" fill="#00ff00"/>
<path d="M251 761h1v1h-1zM251 762h2v1h-2zM250 763h3v1h-3zM250 764h4v1h-4zM249 765h5v1h-5zM249 766h6v1h-6zM248 767h7v1h-7zM248 768h8v1h-8zM247 769h9v1h-9z" fill="#00ff00"/>
<path d="M257 757h1v1h-1zM257 758h2v1h-2zM256 759h3v1h-3zM256 760h4v1h-4zM255 761h5v1h-5zM255 762h6v1h-6zM254 763h7v1h-7zM254 764h8v1h-8zM253 765h9v1h-9z" fill="#00ff00"/>
<path d="M263 754h1v1h-1zM263 755h2v1h-2zM262 756h3v1h-3zM262 757h4v1h-4zM261 758h5v1h-5zM261 759h6v1h-6zM260 760h7v1h-7zM260 761h8v1h-8zM259 762h9v1h-9z" fill="#00ff00"/>
<path d="M275 747h1v1h-1zM275 748h2v1h-2zM274 749h3v1h-3zM274 750h4v1h-4zM273 751h5v1h-5zM273 752h6v1h-6zM272 753h7v1h-7zM272 754h8v1h-8zM271 755h9v1h-9z" fill="#00ff00"/>
<path d="M281 744h1v1h-1zM281 745h2v1h-2zM280 746h3v1h-3zM280 747h4v1h-4zM279 748h5v1h-5zM279 749h6v1h-6zM278 750h7v1h-7zM278 751h8v1h-8zM277 752h9v1h-9z" fill="#00ff00"/>
<path d="M288 738h1v1h-1zM288 739h2v1h-2zM287 740h3v1h-3zM287 741h4v1h-4zM286 742h5v1h-5zM286 743h6v1h-6zM285 744h7v1h-7zM285 745h8v1h-8zM284 746h9v1h-9z" fill="#00ff00"/>
<path d="M294 705h1v1h-1zM294 706h2v1h-2zM293 707h3v1h-3zM293 708h4v1h-4zM292 709h5v1h-5zM292 710h6v1h-6zM291 711h7v1h-7zM291 712h8v1h-8zM290 713h9v1h-9z" fill="#00ff00"/>
<path d="M318 705h1v1h-1zM318 706h2v1h-2zM317 707h3v1h-3zM317 708h4v1h-4zM316 709h5v1h-5zM316 710h6v1h-6zM315 711h7v1h-7zM315 712h8v1h-8zM314 713h9v1h-9z" fill="#00ff00"/>
<path d="M324 716h1v1h-1zM324 717h2v1h-2zM323 718h3v1h-3zM323 719h4v1h-4zM322 720h5v1h-5zM322 721h6v1h-6zM321 722h7v1h-7zM321 723h8v1h-8zM320 724h9v1h-9z" fill="#00ff00"/>
<path d="M330 837h1v1h-1zM330 838h2v1h-2zM329 839h3v1h-3zM329 840h4v1h-4zM328 841h5v1h-5zM328 842h6v1h-6zM327 843h7v1h-7zM327 844h8v1h-8zM326 845h9v1h-9z" fill="#00ff00"/>
<path d="M336 865h1v1h-1zM336 866h2v1h-2zM335 867h3v1h-3zM335 868h4v1h-4zM334 869h5v1h-5zM334 870h6v1h-6zM333 871h7v1h-7zM333 872h8v1h-8zM332 873h9v1h-9z" fill="#00ff00"/>
<polyline points="168.2,873.7 168.8,873.7 169.4,873.6 170.0,873.6 170.6,873.6 171.2,873.5 171.8,873.4 172.4,873.4 173.0,873.3 173.6,873.1 174.2,873.0 174.8,872.9 175.5,872.7 176.1,872.5 176.7,872.3 177.3,872.0 177.9,871.7 178.5,871.4 179.1,871.1 179.7,870.7 180.3,870.3 180.9,869.8 181.5,869.3 182.1,868.8 182.7,868.3 183.3,867.7 183.9,867.1 184.5,866.5 185.1,865.9 185.7,865.3 186.3,864.6 186.9,863.9 187.5,863.3 188.1,862.6 188.7,862.0 189.3,861.3 189.9,860.7 190.5,860.1 191.1,859.5 191.7,859.0 192.3,858.4 192.9,857.9 193.5,857.5 194.1,857.0 194.7,856.6 195.4,856.2 196.0,855.8 196.6,855.5 197.2,855.2 197.8,854.9 198.4,854.7 199.0,854.5 199.6,854.3 200.2,854.1 200.8,853.9 201.4,853.8 202.0,853.6 202.6,853.5 203.2,853.4 203.8,853.3 204.4,853.2 205.0,853.1 205.6,853.0 206.2,852.9 206.8,852.8 207.4,852.7 208.0,852.6 208.6,852.6 209.2,852.5 209.8,852.4 210.4,852.3 211.0,852.3 211.6,852.2 212.2,852.1 212.8,852.1 213.4,852.0 214.0,851.9 214.6,851.9 215.3,851.8 215.9,851.7 216.5,851.7 217.1,851.6 217.7,851.5 218.3,851.5 218.9,851.4 219.5,851.3 220.1,851.3 220.7,851.2 221.3,851.1 221.9,851.1 222.5,851.0 223.1,850.9 223.7,850.9 224.3,850.8 224.9,850.7 225.5,850.7 226.1,850.6 226.7,850.5 227.3,850.5 227.9,850.4 228.5,850.3 229.1,850.3 229.7,850.2 230.3,850.1 230.9,850.1 231.5,850.0 232.1,849.9 232.7,849.8 233.3,849.8 233.9,849.7 234.5,849.6 235.2,849.6 235.8,849.5 236.4,849.4 237.0,849.4 237.6,849.3 238.2,849.2 238.8,849.2 239.4,849.1 240.0,849.0 240.6,849.0 241.2,848.9 241.8,848.8 242.4,848.8 243.0,848.7 243.6,848.6 244.2,848.6 244.8,848.5 245.4,848.4 246.0,848.4 246.6,848.3 247.2,848.2 247.8,848.2 248.4,848.1 249.0,848.0 249.6,848.0 250.2,847.9 250.8,847.8 251.4,847.8 252.0,847.7 252.6,847.6 253.2,847.6 253.8,847.5 254.4,847.4 255.1,847.4 255.7,847.3 256.3,847.2 256.9,847.2 257.5,847.1 258.1,847.0 258.7,847.0 259.3,846.9 259.9,846.8 260.5,846.8 261.1,846.7 261.7,846.6 262.3,846.6 262.9,846.5 263.5,846.4 264.1,846.3 264.7,846.3 265.3,846.2 265.9,846.1 266.5,846.1 267.1,846.0 267.7,845.9 268.3,845.9 268.9,845.8 269.5,845.7 270.1,845.7 270.7,845.6 271.3,845.5 271.9,845.5 272.5,845.4 273.1,845.3 273.7,845.3 274.4,845.2 275.0,845.1 275.6,845.1 276.2,845.0 276.8,844.9" fill="none" stroke="#0000ff" stroke-width="4" stroke-linejoin="round"/>
<path d="M163 869h9v1h-9zM164 870h8v1h-8zM164 871h7v1h-7zM165 872h6v1h-6zM165 873h5v1h-5zM166 874h4v1h-4zM166 875h3v1h-3zM167 876h2v1h-2zM167 877h1v1h-1z" fill="#0000ff"/>
<path d="M169 869h9v1h-9zM170 870h8v1h-8zM170 871h7v1h-7zM171 872h6v1h-6zM171 873h5v1h-5zM172 874h4v1h-4zM172 875h3v1h-3zM173 876h2v1h-2zM173 877h1v1h-1z" fill="#0000ff"/>
<path d="M175 862h9v1h-9zM176 863h8v1h-8zM176 864h7v1h-7zM177 865h6v1h-6zM177 866h5v1h-5zM178 867h4v1h-4zM178 868h3v1h-3zM179 869h2v1h-2zM179 870h1v1h-1z" fill="#0000ff"/>
<path d="M187 851h9v1h-9zM188 852h8v1h-8zM188 853h7v1h-7zM189 854h6v1h-6zM189 855h5v1h-5zM190 856h4v1h-4zM190 857h3v1h-3zM191 858h2v1h-2zM191 859h1v1h-1z" fill="#0000ff"/>
<path d="M193 849h9v1h-9zM194 850h8v1h-8zM194 851h7v1h-7zM195 852h6v1h-6zM195 853h5v1h-5zM196 854h4v1h-4zM196 855h3v1h-3zM197 856h2v1h-2zM197 857h1v1h-1z" fill="#0000ff"/>
<path d="M199 849h9v1h-9zM200 850h8v1h-8zM200 851h7v1h-7zM201 852h6v1h-6zM201 853h5v1h-5zM202 854h4v1h-4zM202 855h3v1h-3zM203 856h2v1h-2zM203 857h1v1h-1z" fill="#0000ff"/>
<path d="M205 849h9v1h-9zM206 850h8v1h-8zM206 851h7v1h-7zM207 852h6v1h-6zM207 853h5v1h-5zM208 854h4v1h-4zM208 855h3v1h-3zM209 856h2v1h-2zM209 857h1v1h-1z" fill="#0000ff"/>
<path d="M211 848h9v1h-9zM212 849h8v1h-8zM212 850h7v1h-7zM213 851h6v1h-6zM213 852h5v1h-5zM214 853h4v1h-4zM214 854h3v1h-3zM215 855h2v1h-2zM215 856h1v1h-1z" fill="#0000ff"/>
<path d="M217 846h9v1h-9zM218 847h8v1h-8zM218 848h7v1h-7zM219 849h6v1h-6zM219 850h5v1h-5zM220 851h4v1h-4zM220 852h3v1h-3zM221 853h2v1h-2zM221 854h1v1h-1z" fill="#0000ff"/>
<path d="M223 846h9v1h-9zM224 847h8v1h-8zM224 848h7v1h-7zM225 849h6v1h-6zM225 850h5v1h-5zM226 851h4v1h-4zM226 852h3v1h-3zM227 853h2v1h-2zM227 854h1v1h-1z" fill="#0000ff"/>
<path d="M229 846h9v1h-9zM230 847h8v1h-8zM230 848h7v1h-7zM231 849h6v1h-6zM231 850h5v1h-5zM232 851h4v1h-4zM232 852h3v1h-3zM233 853h2v1h-2zM233 854h1v1h-1z" fill="#0000ff"/>
<path d="M235 846h9v1h-9zM236 847h8v1h-8zM236 848h7v1h-7zM237 849h6v1h-6zM237 850h5v1h-5zM238 851h4v1h-4zM238 852h3v1h-3zM239 853h2v1h-2zM239 854h1v1h-1z" fill="#0000ff"/>
<path d="M241 845h9v1h-9zM242 846h8v1h-8zM242 847h7v1h-7zM243 848h6v1h-6zM243 849h5v1h-5zM244 850h4v1h-4zM244 851h3v1h-3zM245 852h2v1h-2zM245 853h1v1h-1z" fill="#0000ff"/>
<path d="M247 845h9v1h-9zM248 846h8v1h-8zM248 847h7v1h-7zM249 848h6v1h-6zM249 849h5v1h-5zM250 850h4v1h-4zM250 851h3v1h-3zM251 852h2v1h-2zM251 853h1v1h-1z" fill="#0000ff"/>
<path d="M253 843h9v1h-9zM254 844h8v1h-8zM254 845h7v1h-7zM255 846h6v1h-6zM255 847h5v1h-5zM256 848h4v1h-4zM256 849h3v1h-3zM257 850h2v1h-2zM257 851h1v1h-1z" fill="#0000ff"/>
<path d="M259 843h9v1h-9zM260 844h8v1h-8zM260 845h7v1h-7zM261 846h6v1h-6zM261 847h5v1h-5zM262 848h4v1h-4zM262 849h3v1h-3zM263 850h2v1h-2zM263 851h1v1h-1z" fill="#0000ff"/>
<path d="M265 842h9v1h-9zM266 843h8v1h-8zM266 844h7v1h-7zM267 845h6v1h-6zM267 846h5v1h-5zM268 847h4v1h-4zM268 848h3v1h-3zM269 849h2v1h-2zM269 850h1v1h-1z" fill="#0000ff"/>
<path d="M271 842h9v1h-9zM272 843h8v1h-8zM272 844h7v1h-7zM273 845h6v1h-6zM273 846h5v1h-5zM274 847h4v1h-4zM274 848h3v1h-3zM275 849h2v1h-2zM275 850h1v1h-1z" fill="#0000ff"/>
<path d="M277 840h9v1h-9zM278 841h8v1h-8zM278 842h7v1h-7zM279 843h6v1h-6zM279 844h5v1h-5zM280 845h4v1h-4zM280 846h3v1h-3zM281 847h2v1h-2zM281 848h1v1h-1z" fill="#0000ff"/>
<path d="M284 840h9v1h-9zM285 841h8v1h-8zM285 842h7v1h-7zM286 843h6v1h-6zM286 844h5v1h-5zM287 845h4v1h-4zM287 846h3v1h-3zM288 847h2v1h-2zM288 848h1v1h-1z" fill="#0000ff"/>
<path d="M290 705h9v1h-9zM291 706h8v1h-8zM291 707h7v1h-7zM292 708h6v1h-6zM292 709h5v1h-5zM293 710h4v1h-4zM293 711h3v1h-3zM294 712h2v1h-2zM294 713h1v1h-1z" fill="#0000ff"/>
<path d="M314 705h9v1h-9zM315 706h8v1h-8zM315 707h7v1h-7zM316 708h6v1h-6zM316 709h5v1h-5zM317 710h4v1h-4zM317 711h3v1h-3zM318 712h2v1h-2zM318 713h1v1h-1z" fill="#0000ff"/>
<path d="M320 809h9v1h-9zM321 810h8v1h-8zM321 811h7v1h-7zM322 812h6v1h-6zM322 813h5v1h-5zM323 814h4v1h-4zM323 815h3v1h-3zM324 816h2v1h-2zM324 817h1v1h-1z" fill="#0000ff"/>
<path d="M326 853h9v1h-9zM327 854h8v1h-8zM327 855h7v1h-7zM328 856h6v1h-6zM328 857h5v1h-5zM329 858h4v1h-4zM329 859h3v1h-3zM330 860h2v1h-2zM330 861h1v1h-1z" fill="#0000ff"/>
<path d="M332 866h9v1h-9zM333 867h8v1h-8zM333 868h7v1h-7zM334 869h6v1h-6zM334 870h5v1h-5zM335 871h4v1h-4zM335 872h3v1h-3zM336 873h2v1h-2zM336 874h1v1h-1z" fill="#0000ff"/>
<rect x="90" y="709" width="2" height="165" fill="#000"/>
<rect x="90" y="872" width="250" height="2" fill="#000"/>
<rect x="92" y="867" width="3" height="2" fill="#000"/>
<rect x="92" y="862" width="3" height="2" fill="#000"/>
<rect x="92" y="856" width="3" height="2" fill="#000"/>
<rect x="92" y="851" width="3" height="2" fill="#000"/>
<rect x="92" y="845" width="7" height="2" fill="#000"/>
<rect x="92" y="840" width="3" height="2" fill="#000"/>
<rect x="92" y="834" width="3" height="2" fill="#000"/>
<rect x="92" y="829" width="3" height="2" fill="#000"/>
<rect x="92" y="823" width="3" height="2" fill="#000"/>
<rect x="92" y="818" width="7" height="2" fill="#000"/>
<rect x="92" y="812" width="3" height="2" fill="#000"/>
<rect x="92" y="807" width="3" height="2" fill="#000"/>
<rect x="92" y="801" width="3" height="2" fill="#000"/>
<rect x="92" y="796" width="3" height="2" fill="#000"/>
<rect x="92" y="790" width="7" height="2" fill="#000"/>
<rect x="92" y="785" width="3" height="2" fill="#000"/>
<rect x="92" y="779" width="3" height="2" fill="#000"/>
<rect x="92" y="774" width="3" height="2" fill="#000"/>
<rect x="92" y="768" width="3" height="2" fill="#000"/>
<rect x="92" y="763" width="7" height="2" fill="#000"/>
<rect x="92" y="757" width="3" height="2" fill="#000"/>
<rect x="92" y="752" width="3" height="2" fill="#000"/>
<rect x="92" y="746" width="3" height="2" fill="#000"/>
<rect x="92" y="741" width="3" height="2" fill="#000"/>
<rect x="92" y="735" width="7" height="2" fill="#000"/>
<rect x="92" y="730" width="3" height="2" fill="#000"/>
<rect x="92" y="724" width="3" height="2" fill="#000"/>
<rect x="92" y="719" width="3" height="2" fill="#000"/>
<rect x="92" y="713" width="3" height="2" fill="#000"/>
<rect x="92" y="708" width="7" height="2" fill="#000"/>
<rect x="94" y="868" width="2" height="4" fill="#000"/>
<rect x="100" y="871" width="2" height="1" fill="#000"/>
<rect x="106" y="871" width="2" height="1" fill="#000"/>
<rect x="112" y="871" width="2" height="1" fill="#000"/>
<rect x="118" y="871" width="2" height="1" fill="#000"/>
<rect x="124" y="868" width="2" height="4" fill="#000"/>
<rect x="130" y="871" width="2" height="1" fill="#000"/>
<rect x="136" y="871" width="2" height="1" fill="#000"/>
<rect x="142" y="871" width="2" height="1" fill="#000"/>
<rect x="148" y="871" width="2" height="1" fill="#000"/>
<rect x="154" y="868" width="2" height="4" fill="#000"/>
<rect x="160" y="871" width="2" height="1" fill="#000"/>
<rect x="166" y="871" width="2" height="1" fill="#000"/>
<rect x="172" y="871" width="2" height="1" fill="#000"/>
<rect x="178" y="871" width="2" height="1" fill="#000"/>
<rect x="184" y="868" width="2" height="4" fill="#000"/>
<rect x="190" y="871" width="2" height="1" fill="#000"/>
<rect x="196" y="871" width="2" height="1" fill="#000"/>
<rect x="202" y="871" width="2" height="1" fill="#000"/>
<rect x="208" y="871" width="2" height="1" fill="#000"/>
<rect x="214" y="868" width="2" height="4" fill="#000"/>
<rect x="220" y="871" width="2" height="1" fill="#000"/>
<rect x="226" y="871" width="2" height="1" fill="#000"/>
<rect x="232" y="871" width="2" height="1" fill="#000"/>
<rect x="238" y="871" width="2" height="1" fill="#000"/>
<rect x="244" y="868" width="2" height="4" fill="#000"/>
<rect x="250" y="871" width="2" height="1" fill="#000"/>
<rect x="256" y="871" width="2" height="1" fill="#000"/>
<rect x="262" y="871" width="2" height="1" fill="#000"/>
<rect x="268" y="871" width="2" height="1" fill="#000"/>
<rect x="274" y="868" width="2" height="4" fill="#000"/>
<rect x="280" y="871" width="2" height="1" fill="#000"/>
<rect x="287" y="871" width="2" height="1" fill="#000"/>
<rect x="293" y="871" width="2" height="1" fill="#000"/>
<rect x="299" y="871" width="2" height="1" fill="#000"/>
<rect x="305" y="868" width="2" height="4" fill="#000"/>
<rect x="311" y="871" width="2" height="1" fill="#000"/>
<rect x="317" y="871" width="2" height="1" fill="#000"/>
<rect x="323" y="871" width="2" height="1" fill="#000"/>
<rect x="329" y="871" width="2" height="1" fill="#000"/>
<rect x="335" y="868" width="2" height="4" fill="#000"/>
<text transform="translate(65.5,746.3) rotate(-90)" font-family="Liberation Sans" font-size="10" letter-spacing="0.3" stroke="#000" stroke-width="0.22" fill="#000">Counts</text>
<rect x="458" y="709" width="250" height="1" fill="#000"/>
<rect x="707" y="709" width="1" height="165" fill="#000"/>
<line x1="480" y1="724.8" x2="684.8" y2="864.1" stroke="#000" stroke-width="3.2"/>
<path d="M478 720h4v1h-4zM477 721h6v1h-6zM476 722h8v1h-8zM476 723h8v1h-8zM476 724h8v1h-8zM476 725h8v1h-8zM477 726h6v1h-6zM478 727h4v1h-4z" fill="#000"/>
<path d="M581 793h4v1h-4zM580 794h6v1h-6zM579 795h8v1h-8zM579 796h8v1h-8zM579 797h8v1h-8zM579 798h8v1h-8zM580 799h6v1h-6zM581 800h4v1h-4z" fill="#000"/>
<path d="M684 854h4v1h-4zM683 855h6v1h-6zM682 856h8v1h-8zM682 857h8v1h-8zM682 858h8v1h-8zM682 859h8v1h-8zM683 860h6v1h-6zM684 861h4v1h-4z" fill="#000"/>
<rect x="458" y="709" width="2" height="165" fill="#000"/>
<rect x="458" y="872" width="250" height="2" fill="#000"/>
<rect x="460" y="867" width="3" height="2" fill="#000"/>
<rect x="460" y="863" width="3" height="2" fill="#000"/>
<rect x="460" y="859" width="3" height="2" fill="#000"/>
<rect x="460" y="855" width="7" height="2" fill="#000"/>
<rect x="460" y="851" width="3" height="2" fill="#000"/>
<rect x="460" y="847" width="3" height="2" fill="#000"/>
<rect x="460" y="842" width="3" height="2" fill="#000"/>
<rect x="460" y="838" width="3" height="2" fill="#000"/>
<rect x="460" y="834" width="7" height="2" fill="#000"/>
<rect x="460" y="830" width="3" height="2" fill="#000"/>
<rect x="460" y="826" width="3" height="2" fill="#000"/>
<rect x="460" y="822" width="3" height="2" fill="#000"/>
<rect x="460" y="818" width="3" height="2" fill="#000"/>
<rect x="460" y="814" width="7" height="2" fill="#000"/>
<rect x="460" y="809" width="3" height="2" fill="#000"/>
<rect x="460" y="805" width="3" height="2" fill="#000"/>
<rect x="460" y="801" width="3" height="2" fill="#000"/>
<rect x="460" y="797" width="3" height="2" fill="#000"/>
<rect x="460" y="793" width="7" height="2" fill="#000"/>
<rect x="460" y="789" width="3" height="2" fill="#000"/>
<rect x="460" y="785" width="3" height="2" fill="#000"/>
<rect x="460" y="781" width="3" height="2" fill="#000"/>
<rect x="460" y="776" width="3" height="2" fill="#000"/>
<rect x="460" y="772" width="7" height="2" fill="#000"/>
<rect x="460" y="768" width="3" height="2" fill="#000"/>
<rect x="460" y="764" width="3" height="2" fill="#000"/>
<rect x="460" y="760" width="3" height="2" fill="#000"/>
<rect x="460" y="756" width="3" height="2" fill="#000"/>
<rect x="460" y="752" width="7" height="2" fill="#000"/>
<rect x="460" y="748" width="3" height="2" fill="#000"/>
<rect x="460" y="744" width="3" height="2" fill="#000"/>
<rect x="460" y="739" width="3" height="2" fill="#000"/>
<rect x="460" y="735" width="3" height="2" fill="#000"/>
<rect x="460" y="731" width="7" height="2" fill="#000"/>
<rect x="460" y="727" width="3" height="2" fill="#000"/>
<rect x="460" y="723" width="3" height="2" fill="#000"/>
<rect x="460" y="719" width="3" height="2" fill="#000"/>
<rect x="460" y="715" width="3" height="2" fill="#000"/>
<rect x="460" y="711" width="7" height="2" fill="#000"/>
<rect x="458" y="871" width="2" height="1" fill="#000"/>
<rect x="465" y="868" width="2" height="4" fill="#000"/>
<rect x="472" y="871" width="2" height="1" fill="#000"/>
<rect x="479" y="871" width="2" height="1" fill="#000"/>
<rect x="486" y="871" width="2" height="1" fill="#000"/>
<rect x="493" y="871" width="2" height="1" fill="#000"/>
<rect x="500" y="868" width="2" height="4" fill="#000"/>
<rect x="506" y="871" width="2" height="1" fill="#000"/>
<rect x="513" y="871" width="2" height="1" fill="#000"/>
<rect x="520" y="871" width="2" height="1" fill="#000"/>
<rect x="527" y="871" width="2" height="1" fill="#000"/>
<rect x="534" y="868" width="2" height="4" fill="#000"/>
<rect x="541" y="871" width="2" height="1" fill="#000"/>
<rect x="548" y="871" width="2" height="1" fill="#000"/>
<rect x="555" y="871" width="2" height="1" fill="#000"/>
<rect x="561" y="871" width="2" height="1" fill="#000"/>
<rect x="568" y="868" width="2" height="4" fill="#000"/>
<rect x="575" y="871" width="2" height="1" fill="#000"/>
<rect x="582" y="871" width="2" height="1" fill="#000"/>
<rect x="589" y="871" width="2" height="1" fill="#000"/>
<rect x="596" y="871" width="2" height="1" fill="#000"/>
<rect x="603" y="868" width="2" height="4" fill="#000"/>
<rect x="609" y="871" width="2" height="1" fill="#000"/>
<rect x="616" y="871" width="2" height="1" fill="#000"/>
<rect x="623" y="871" width="2" height="1" fill="#000"/>
<rect x="630" y="871" width="2" height="1" fill="#000"/>
<rect x="637" y="868" width="2" height="4" fill="#000"/>
<rect x="644" y="871" width="2" height="1" fill="#000"/>
<rect x="651" y="871" width="2" height="1" fill="#000"/>
<rect x="658" y="871" width="2" height="1" fill="#000"/>
<rect x="664" y="871" width="2" height="1" fill="#000"/>
<rect x="671" y="868" width="2" height="4" fill="#000"/>
<rect x="678" y="871" width="2" height="1" fill="#000"/>
<rect x="685" y="871" width="2" height="1" fill="#000"/>
<rect x="692" y="871" width="2" height="1" fill="#000"/>
<rect x="699" y="871" width="2" height="1" fill="#000"/>
<rect x="706" y="868" width="2" height="4" fill="#000"/>
<text transform="translate(433,761.5) rotate(-90)" font-family="Liberation Sans" font-size="10" letter-spacing="0.43" stroke="#000" stroke-width="0.22" fill="#000">Threshold</text>
</svg>
<div class="tl r" style="left:45px;width:40px;top:844px">1000</div>
<div class="tl r" style="left:45px;width:40px;top:816px">2000</div>
<div class="tl r" style="left:45px;width:40px;top:789px">3000</div>
<div class="tl r" style="left:45px;width:40px;top:761px">4000</div>
<div class="tl r" style="left:45px;width:40px;top:734px">5000</div>
<div class="tl r" style="left:45px;width:40px;top:706px">6000</div>
<div class="tl r" style="left:45px;width:43px;top:871px">0</div>
<div class="tl c" style="left:72px;width:40px;top:876px">450</div>
<div class="tl c" style="left:102px;width:40px;top:876px">500</div>
<div class="tl c" style="left:132px;width:40px;top:876px">550</div>
<div class="tl c" style="left:162px;width:40px;top:876px">600</div>
<div class="tl c" style="left:192px;width:40px;top:876px">650</div>
<div class="tl c" style="left:223px;width:40px;top:876px">700</div>
<div class="tl c" style="left:253px;width:40px;top:876px">750</div>
<div class="tl c" style="left:283px;width:40px;top:876px">800</div>
<div class="tl c" style="left:313px;width:40px;top:876px">850</div>
<div class="pt" style="left:88px;top:687px;">Module number 0 sn0x000</div>
<div class="al" style="left:285px;top:887px;transform:scaleX(1.06)">Threshold</div>
<div class="tl r" style="left:414px;width:40px;top:853px">600</div>
<div class="tl r" style="left:414px;width:40px;top:833px">610</div>
<div class="tl r" style="left:414px;width:40px;top:812px">620</div>
<div class="tl r" style="left:414px;width:40px;top:792px">630</div>
<div class="tl r" style="left:414px;width:40px;top:771px">640</div>
<div class="tl r" style="left:414px;width:40px;top:750px">650</div>
<div class="tl r" style="left:414px;width:40px;top:730px">660</div>
<div class="tl r" style="left:414px;width:40px;top:709px">670</div>
<div class="tl c" style="left:445px;width:40px;top:876px">12</div>
<div class="tl c" style="left:479px;width:40px;top:876px">13</div>
<div class="tl c" style="left:513px;width:40px;top:876px">14</div>
<div class="tl c" style="left:548px;width:40px;top:876px">15</div>
<div class="tl c" style="left:582px;width:40px;top:876px">16</div>
<div class="tl c" style="left:616px;width:40px;top:876px">17</div>
<div class="tl c" style="left:651px;width:40px;top:876px">18</div>
<div class="tl c" style="left:685px;width:40px;top:876px">19</div>
<div class="al" style="left:639px;top:887px;transform:scaleX(1.065)">Energy (keV)</div>
<div class="btn" style="left:39px;top:954px;width:180px;height:25px"></div>
<div class="t" style="left:70px;top:961px"><i class="a8 u">B</i><i class=a7>a</i><i class=a6>c</i><i class=a6>k</i><i class=a3>&nbsp;</i><i class=a3>t</i><i class=a7>o</i><i class=a3>&nbsp;</i><i class=a8>E</i><i class=a7>n</i><i class=a7>e</i><i class=a4>r</i><i class=a7>g</i><i class=a6>y</i><i class=a3>&nbsp;</i><i class=a8>S</i><i class=a7>e</i><i class=a3>t</i><i class=a7>u</i><i class=a7>p</i></div>
<div class="btn" style="left:219px;top:954px;width:58px;height:25px"></div>
<div class="t dis" style="left:223px;top:961px"><i class="a7 u">F</i><i class=a3>i</i><i class=a7>n</i><i class=a3>i</i><i class=a6>s</i><i class=a7>h</i><i class=a7>e</i><i class=a7>d</i></div>
<div class="btn" style="left:277px;top:954px;width:31px;height:25px"></div>
<div class="t" style="left:281px;top:961px"><i class="a8 u">E</i><i class=a6>x</i><i class=a3>i</i><i class=a3>t</i></div>
</div></body></html>
